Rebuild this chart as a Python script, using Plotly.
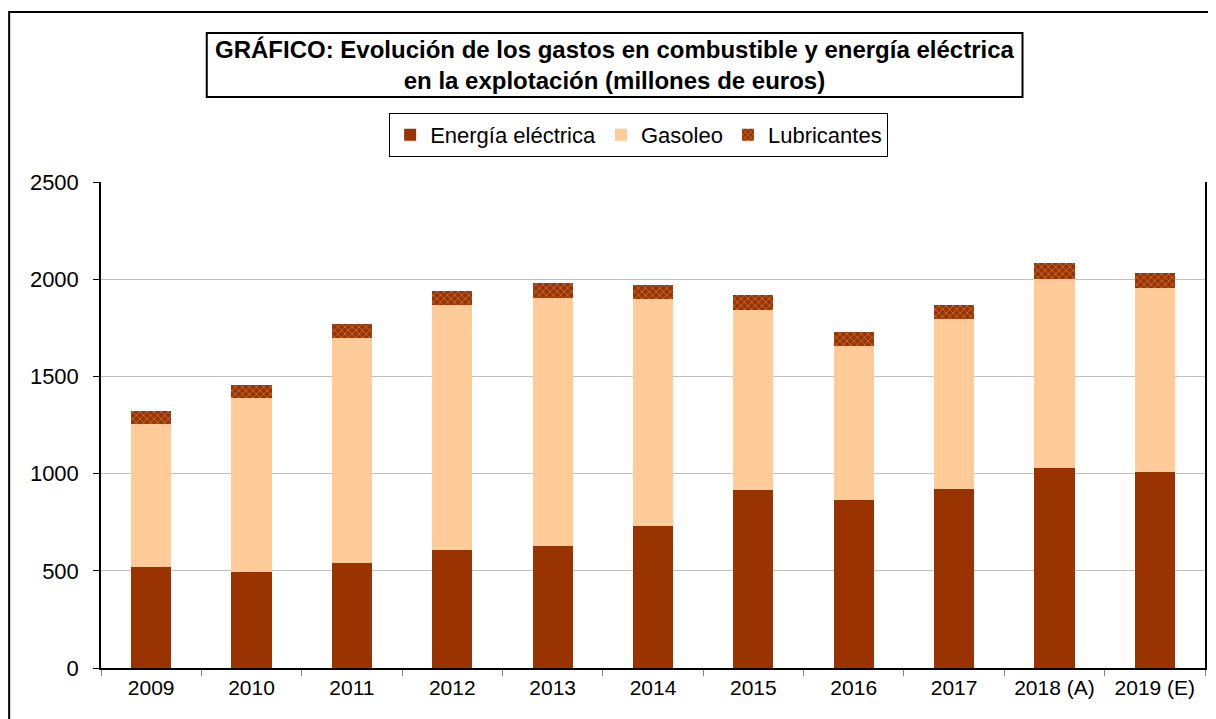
import plotly.graph_objects as go

# Datos (millones de euros)
anos = ["2009", "2010", "2011", "2012", "2013", "2014", "2015", "2016", "2017", "2018 (A)", "2019 (E)"]
energia_electrica = [520, 492, 539, 606, 628, 733, 916, 862, 923, 1028, 1007]
gasoleo = [736, 897, 1158, 1263, 1277, 1164, 927, 794, 871, 973, 950]
lubricantes = [66, 67, 72, 72, 74, 74, 76, 71, 72, 81, 74]

FONT = "Arial, Liberation Sans, sans-serif"

fig = go.Figure()

fig.add_trace(go.Bar(
    x=anos, y=energia_electrica, name="Energía eléctrica",
    marker=dict(color="#993300", line=dict(width=0)),
))
fig.add_trace(go.Bar(
    x=anos, y=gasoleo, name="Gasoleo",
    marker=dict(color="#FFCC99", line=dict(width=0)),
))
fig.add_trace(go.Bar(
    x=anos, y=lubricantes, name="Lubricantes",
    marker=dict(
        color="#993300",
        line=dict(width=0),
        pattern=dict(shape="x", fgcolor="#FFCC99", bgcolor="#993300",
                     size=5, solidity=0.25),
    ),
))

# la página añade 8px de margen al cuerpo, por eso 1208x711
fig.update_layout(
    width=1208, height=711,
    barmode="stack",
    bargap=0.6,
    plot_bgcolor="white",
    paper_bgcolor="white",
    font=dict(family=FONT, size=21, color="black"),
    margin=dict(l=93, r=9, t=174, b=51),
    legend=dict(
        orientation="h",
        x=0.487, xanchor="center",
        y=1.142, yanchor="top",
        bordercolor="black", borderwidth=1,
        traceorder="normal",
        font=dict(size=22),
    ),
    showlegend=True,
)

fig.update_xaxes(
    showline=True, linecolor="black", linewidth=1.5,
    ticks="outside", tickson="boundaries", ticklen=6, tickcolor="#808080",
    tickfont=dict(size=21),
    showgrid=False,
)
fig.update_yaxes(
    range=[0, 2500], dtick=500,
    showline=True, linecolor="black", linewidth=1.5, mirror=True,
    ticks="outside", ticklen=6, tickcolor="black",
    ticklabelstandoff=10,
    showgrid=True, gridcolor="#C0C0C0", gridwidth=1,
    tickfont=dict(size=22),
    zeroline=False,
)

# Marco exterior del gráfico
fig.add_shape(type="rect", xref="paper", yref="paper",
              x0=-0.0832, x1=1.02, y0=-0.2, y1=1.35,
              line=dict(color="black", width=2), layer="below")

# Caja del título
fig.add_shape(type="rect", xref="paper", yref="paper",
              x0=0.0958, x1=0.8347, y0=1.1751, y1=1.3068,
              line=dict(color="black", width=2))
fig.add_annotation(
    xref="paper", yref="paper", x=0.4652, y=1.241,
    xanchor="center", yanchor="middle",
    text="<b>GRÁFICO: Evolución de los gastos en combustible y energía eléctrica<br>en la explotación (millones de euros)</b>",
    showarrow=False, font=dict(size=24, family=FONT), align="center",
)

fig.write_html("out.html")
